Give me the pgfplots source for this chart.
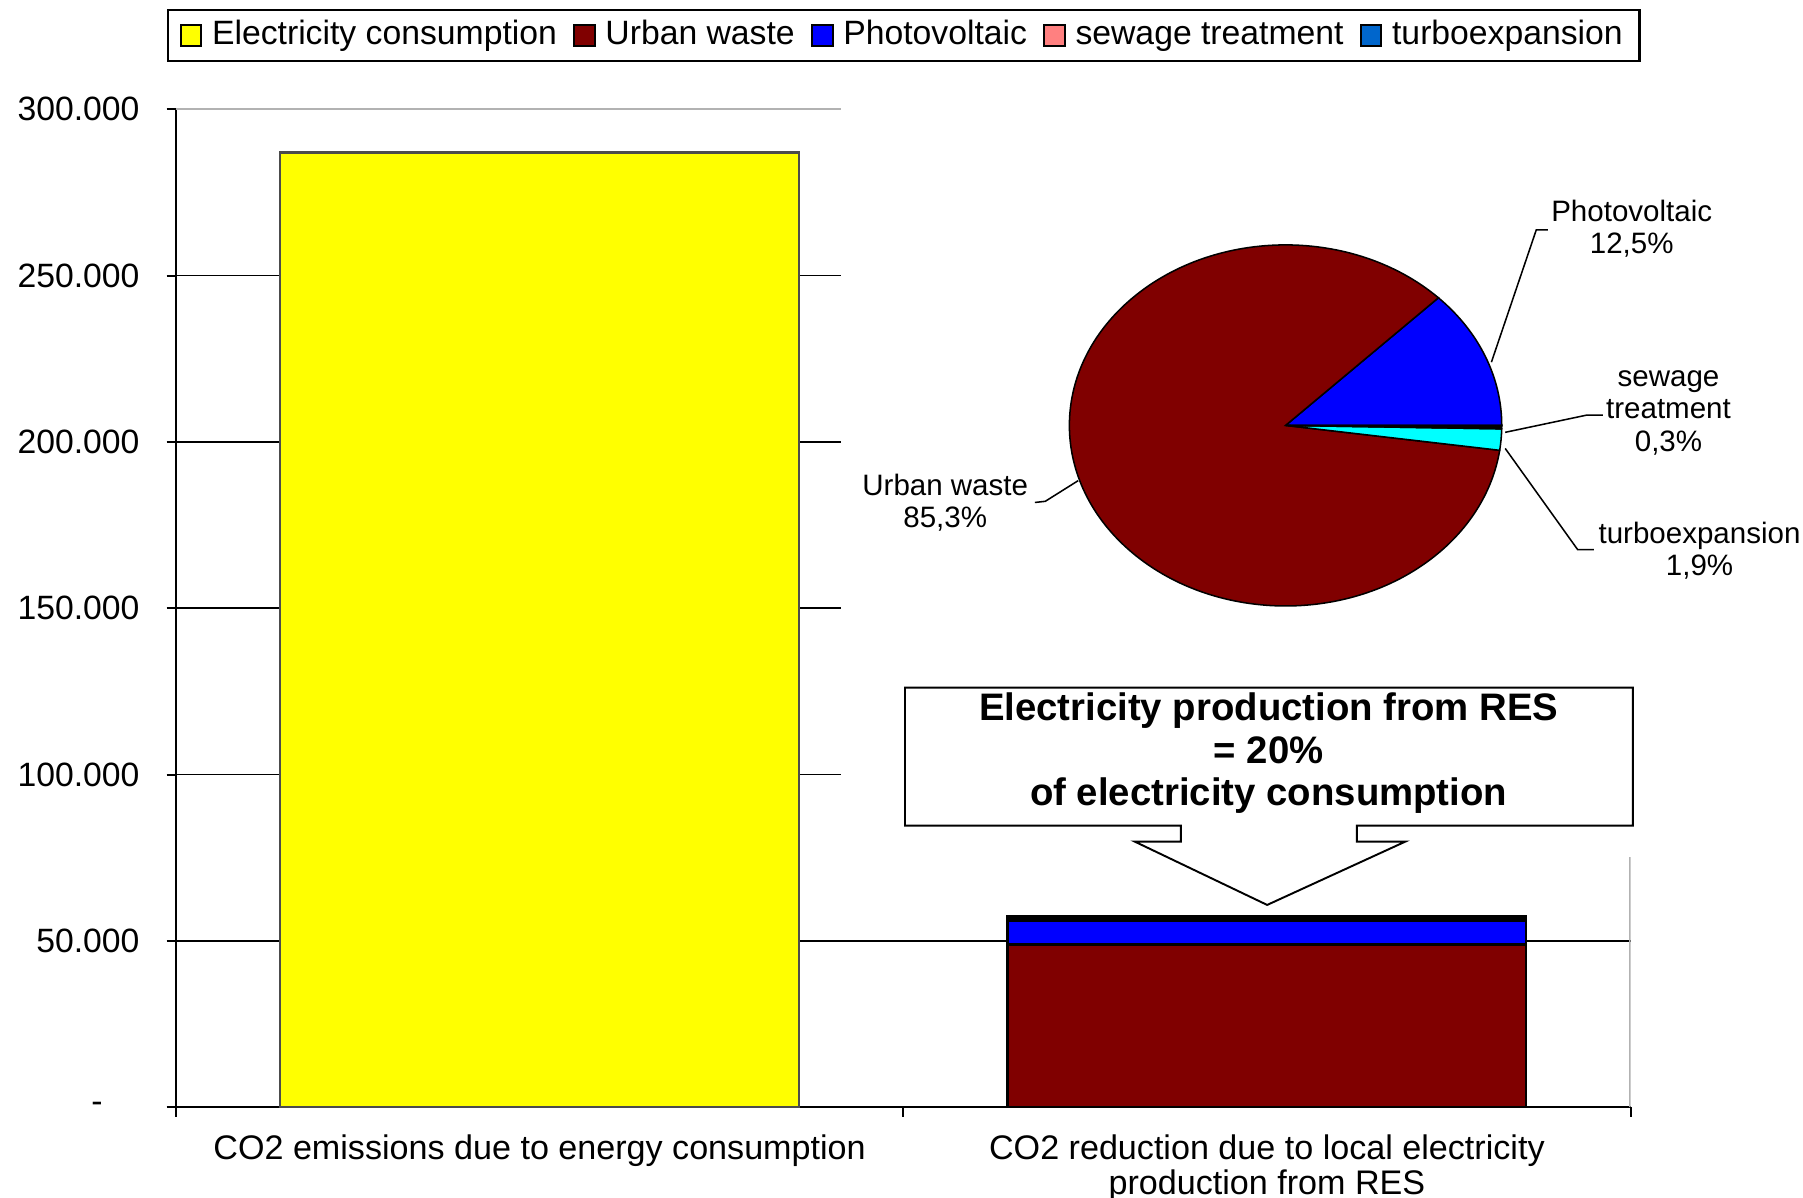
\documentclass[border=0pt]{standalone}
\usepackage{fontspec}
\setmainfont{Liberation Sans}
\usepackage{pgfplots}
\pgfplotsset{compat=1.18}

\definecolor{cYel}{RGB}{255,255,0}
\definecolor{cMar}{RGB}{128,0,0}
\definecolor{cBlu}{RGB}{0,0,255}
\definecolor{cPnk}{RGB}{255,128,128}
\definecolor{cTur}{RGB}{0,102,204}
\definecolor{cCya}{RGB}{0,255,255}

% pie shares (%)
\def\pctPV{12.5}
\def\pctUW{85.3}
\def\pctTE{1.9}
\def\pctST{0.3}

\newcommand\slice[3]{%
  \fill[#3, draw=black, line width=0.4pt] (axis cs:0,0) -- (axis cs:{cos(#1)},{sin(#1)})
    arc[start angle=#1, end angle=#2, x radius=56.4pt, y radius=47.1pt] -- cycle;}

\begin{document}
\begin{tikzpicture}[font=\fontsize{8.8}{10.5}\selectfont]

\begin{axis}[
  at={(45.9pt,23.4pt)}, anchor=south west,
  scale only axis, width=379.5pt, height=260.4pt,
  xmin=0, xmax=2, ymin=0, ymax=300000,
  scaled y ticks=false,
  axis x line=bottom, axis y line=left,
  axis line style={-, black, line width=0.6pt},
  ybar stacked, bar width=135.3pt,
  xtick={0,1,2}, x tick label as interval,
  xticklabels={CO2 emissions due to energy consumption,
    {CO2 reduction due to local electricity\\production from RES}},
  xticklabel style={align=center, inner sep=0pt, yshift=-4.5pt,
    font=\fontsize{8.9}{9.3}\selectfont},
  ytick={0,50000,100000,150000,200000,250000},
  yticklabels={{-\kern9.6pt},50.000,100.000,150.000,200.000,250.000},
  extra y ticks={300000}, extra y tick labels={300.000},
  extra y tick style={major grid style={gray!60, line width=0.45pt}},
  yticklabel style={inner sep=0pt, xshift=-6.9pt},
  tick align=outside, major tick length=2.4pt,
  tick style={black, line width=0.5pt},
  ymajorgrids, major grid style={black, line width=0.45pt},
  legend columns=5,
  legend image code/.code={\draw[#1] (0pt,-2.8pt) rectangle (5.4pt,2.8pt);
    \path (6.6pt,0pt);},
  legend style={at={(0.5004,1.0737)}, anchor=center, draw=black,
    line width=0.6pt, inner xsep=3pt, inner ysep=1pt,
    nodes={inner xsep=1.35pt, inner ysep=1.5pt, text height=6.4pt, text depth=1.9pt},
    /tikz/every even column/.append style={column sep=2.85pt}},
]
\addplot[fill=cYel, draw=black!70, line width=0.6pt, forget plot]
  coordinates {(0.5,286979) (1.5,0)};
\addplot[fill=cMar, draw=black, line width=0.6pt, forget plot]
  coordinates {(0.5,0) (1.5,48959)};
\addplot[fill=cBlu, draw=black, line width=0.6pt, forget plot]
  coordinates {(0.5,0) (1.5,7175)};
\addplot[fill=black, draw=black, line width=0.6pt, forget plot]
  coordinates {(0.5,0) (1.5,172)};
\addplot[fill=black, draw=black, line width=0.6pt, forget plot]
  coordinates {(0.5,0) (1.5,1090)};

\addlegendimage{fill=cYel, draw=black, line width=0.5pt}
\addlegendentry{Electricity consumption}
\addlegendimage{fill=cMar, draw=black, line width=0.5pt}
\addlegendentry{Urban waste}
\addlegendimage{fill=cBlu, draw=black, line width=0.5pt}
\addlegendentry{Photovoltaic}
\addlegendimage{fill=cPnk, draw=black, line width=0.5pt}
\addlegendentry{sewage treatment}
\addlegendimage{fill=cTur, draw=black, line width=0.5pt}
\addlegendentry{turboexpansion}

\node at (axis cs:0.5,144100) {286.979};
\draw[gray!60, line width=0.6pt] (axis cs:2,0) -- (axis cs:2,75346);
\end{axis}

% blank area behind the pie
\fill[white] (219.3pt,88.8pt) rectangle (471pt,287.5pt);

% callout
\draw[fill=white, line width=0.5pt] (236.1pt,132.9pt) -- (426pt,132.9pt) -- (426pt,96.9pt)
  -- (354pt,96.9pt) -- (354pt,92.7pt) -- (366.6pt,92.7pt) -- (330.6pt,76.2pt)
  -- (296.1pt,92.7pt) -- (308.1pt,92.7pt) -- (308.1pt,96.9pt) -- (236.1pt,96.9pt) -- cycle;
\node[align=center, font=\bfseries\fontsize{10}{11.1}\selectfont] at (331pt,115.8pt)
  {Electricity production from RES\\= 20\%\\of electricity consumption};

% pie
\pgfmathsetmacro\aA{3.6*\pctPV}
\pgfmathsetmacro\aB{\aA+3.6*\pctUW}
\pgfmathsetmacro\aC{\aB+3.6*\pctTE}
\begin{axis}[at={(279pt,154.2pt)}, anchor=south west, scale only axis,
  width=112.8pt, height=94.2pt, xmin=-1, xmax=1, ymin=-1, ymax=1,
  hide axis, clip=false]
\addplot[draw=none] coordinates {(0,0)};
\slice{0}{\aA}{cBlu}
\slice{\aA}{\aB}{cMar}
\slice{\aB}{\aC}{cCya}
\slice{\aC}{360}{black}
\end{axis}

\begin{scope}[font=\fontsize{7.7}{8.4}\selectfont, line width=0.4pt]
\draw (389.1pt,217.8pt) -- (400.8pt,252.3pt) -- (403.8pt,252.3pt);
\node[align=center] at (425.7pt,252.6pt) {Photovoltaic\\12,5\%};
\draw (392.7pt,199.5pt) -- (414pt,204pt) -- (418.2pt,204pt);
\node[align=center] at (435.3pt,204.6pt) {sewage\\treatment\\0,3\%};
\draw (392.7pt,195.3pt) -- (411.6pt,168.9pt) -- (415.8pt,168.9pt);
\node[align=center] at (443.4pt,168.6pt) {turboexpansion\\1,9\%};
\draw (270pt,181.2pt) -- (272.7pt,181.5pt) -- (281.3pt,186.9pt);
\node[align=center] at (246.6pt,181.2pt) {Urban waste\\85,3\%};
\end{scope}

\pgfresetboundingbox
\path (0pt,0pt) rectangle (470.4pt,312.3pt);
\end{tikzpicture}
\end{document}
